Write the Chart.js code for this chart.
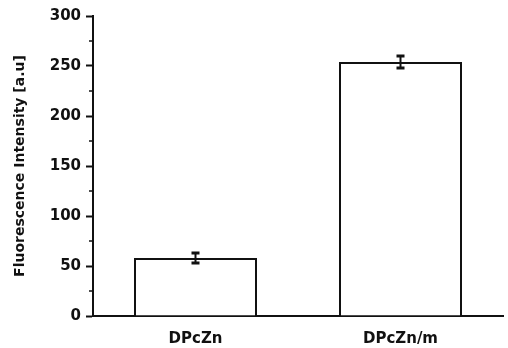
<!DOCTYPE html>
<html>
<head>
<meta charset="utf-8">
<script src="https://cdn.jsdelivr.net/npm/chart.js@4"></script>
<style>
  html, body { margin: 0; padding: 0; background: #fff; }
  #wrap { width: 508px; height: 348px; }
</style>
</head>
<body>
<div id="wrap"><canvas id="chart"></canvas></div>
<script>
var categories = ['DPcZn', 'DPcZn/m'];
var intensity = [58, 254];
var intensityErr = [5, 6];
var yTicks = [0, 50, 100, 150, 200, 250, 300];

var FONT = "'DejaVu Sans', sans-serif";

// error bars drawn from the data through the y scale
var errorBars = {
    id: 'errorBars',
    afterDatasetsDraw: function(chart) {
        var ctx = chart.ctx;
        var y = chart.scales.y;
        var meta = chart.getDatasetMeta(0);
        ctx.save();
        ctx.strokeStyle = '#111';
        ctx.lineWidth = 2;
        meta.data.forEach(function(bar, i) {
            var hi = y.getPixelForValue(intensity[i] + intensityErr[i]);
            var lo = y.getPixelForValue(intensity[i] - intensityErr[i]);
            ctx.beginPath();
            ctx.moveTo(bar.x, hi); ctx.lineTo(bar.x, lo);
            ctx.stroke();
            ctx.lineWidth = 3;
            ctx.beginPath();
            ctx.moveTo(bar.x - 4, hi); ctx.lineTo(bar.x + 4, hi);
            ctx.moveTo(bar.x - 4, lo); ctx.lineTo(bar.x + 4, lo);
            ctx.stroke();
            ctx.lineWidth = 2;
        });
        ctx.restore();
    }
};

// minor ticks halfway between the labelled ones
var minorTicks = {
    id: 'minorTicks',
    afterDraw: function(chart) {
        var ctx = chart.ctx;
        var y = chart.scales.y;
        var left = chart.chartArea.left;
        ctx.save();
        ctx.strokeStyle = '#111';
        ctx.lineWidth = 1.5;
        for (var i = 0; i < yTicks.length - 1; i++) {
            var py = y.getPixelForValue((yTicks[i] + yTicks[i + 1]) / 2);
            ctx.beginPath();
            ctx.moveTo(left - 4, py); ctx.lineTo(left, py);
            ctx.stroke();
        }
        ctx.restore();
    }
};

new Chart(document.getElementById('chart'), {
    type: 'bar',
    data: {
        labels: categories,
        datasets: [{
            data: intensity,
            backgroundColor: '#fff',
            borderColor: '#111',
            borderWidth: 2,
            barPercentage: 0.6,
            categoryPercentage: 1
        }]
    },
    options: {
        responsive: true,
        maintainAspectRatio: false,
        animation: false,
        layout: { padding: { top: 16, right: 5, bottom: 0, left: 0 } },
        plugins: {
            legend: { display: false },
            tooltip: { enabled: false }
        },
        scales: {
            x: {
                grid: { display: false, drawTicks: false },
                border: { display: true, color: '#111', width: 2 },
                ticks: {
                    color: '#111',
                    padding: 14,
                    font: { family: FONT, size: 15, weight: 'bold' }
                },
                afterFit: function(scale) { scale.height = 32; }
            },
            y: {
                min: 0,
                max: 300,
                afterBuildTicks: function(scale) {
                    scale.ticks = yTicks.map(function(v) { return { value: v }; });
                },
                grid: { drawOnChartArea: false, tickLength: 7, tickColor: '#111', tickWidth: 2 },
                border: { display: true, color: '#111', width: 2 },
                ticks: {
                    color: '#111',
                    padding: 5,
                    font: { family: FONT, size: 15, weight: 'bold' }
                },
                title: {
                    display: true,
                    text: 'Fluorescence Intensity [a.u]',
                    color: '#111',
                    padding: { top: 12, bottom: 0 },
                    font: { family: FONT, size: 14, weight: 'bold' }
                },
                afterFit: function(scale) { scale.width = 93; }
            }
        }
    },
    plugins: [errorBars, minorTicks]
});
</script>
</body>
</html>
